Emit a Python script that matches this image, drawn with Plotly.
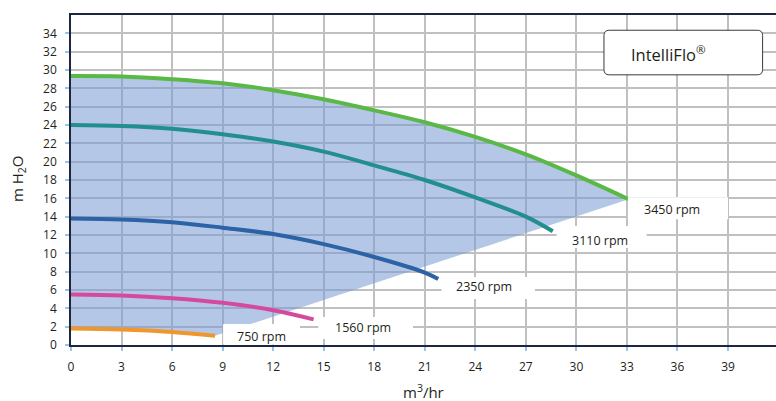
import plotly.graph_objects as go

# ---- data ----
x_3450 = [0, 3, 6, 9, 12, 15, 18, 21, 24, 27, 30, 33.1]
y_3450 = [29.35, 29.3, 29.0, 28.55, 27.8, 26.8, 25.6, 24.3, 22.7, 20.8, 18.5, 15.9]

x_3110 = [0, 3, 6, 9, 12, 15, 18, 21, 24, 27, 28.6]
y_3110 = [24.0, 23.9, 23.6, 23.0, 22.2, 21.1, 19.6, 18.0, 16.1, 14.0, 12.4]

x_2350 = [0, 3, 6, 9, 12, 15, 18, 21, 21.8]
y_2350 = [13.8, 13.7, 13.4, 12.8, 12.1, 11.0, 9.6, 7.9, 7.2]

x_1560 = [0, 3, 6, 9, 12, 14.4]
y_1560 = [5.5, 5.4, 5.1, 4.6, 3.8, 2.8]

x_750 = [0, 3, 6, 8.55]
y_750 = [1.8, 1.7, 1.42, 1.0]

speed_labels = ["3450 rpm", "3110 rpm", "2350 rpm", "1560 rpm", "750 rpm"]
label_x = [35.66, 31.39, 24.51, 17.31, 11.28]
label_y = [14.82, 11.44, 6.35, 1.89, 0.98]
# white label boxes [x0, x1, y0, y1]
box_x0 = [33.06, 28.83, 22.0, 14.68, 9.03]
box_x1 = [39.0, 34.17, 27.54, 20.3, 13.59]
box_y0 = [13.73, 10.57, 5.01, 0.65, 0.05]
box_y1 = [16.13, 12.97, 7.41, 3.05, 2.29]

x_ticks = list(range(0, 40, 3))
y_ticks = list(range(0, 35, 2))

colors = ["#5ab946", "#238e8e", "#2c62a6", "#d64a9e", "#f0962c"]
FONT = "Open Sans"
TXT = "#231f20"

fig = go.Figure()

# shaded operating region: bottom curve, straight edge to top curve end, back along top curve
fx = x_750 + x_3450[::-1]
fy = y_750 + y_3450[::-1]
fig.add_trace(go.Scatter(x=fx, y=fy, fill="toself", mode="lines",
                         line=dict(width=0), fillcolor="rgba(119,153,210,0.55)",
                         hoverinfo="skip", showlegend=False))

series = [(x_3450, y_3450), (x_3110, y_3110), (x_2350, y_2350), (x_1560, y_1560), (x_750, y_750)]
for (xs, ys), c, name in zip(series, colors, speed_labels):
    fig.add_trace(go.Scatter(x=xs, y=ys, mode="lines", name=name,
                             line=dict(color=c, width=4, shape="spline"),
                             showlegend=False))

shapes = []
for x0, x1, y0, y1 in zip(box_x0, box_x1, box_y0, box_y1):
    shapes.append(dict(type="rect", xref="x", yref="y", x0=x0, x1=x1, y0=y0, y1=y1,
                       fillcolor="white", line=dict(width=0), layer="above"))

# IntelliFlo rounded box (paper coords)
bx0, bx1, by0, by1 = 0.756, 0.981, 0.8187, 0.9538
rx, ry = 0.0075, 0.016
path = (f"M {bx0+rx},{by0} L {bx1-rx},{by0} Q {bx1},{by0} {bx1},{by0+ry} "
        f"L {bx1},{by1-ry} Q {bx1},{by1} {bx1-rx},{by1} "
        f"L {bx0+rx},{by1} Q {bx0},{by1} {bx0},{by1-ry} "
        f"L {bx0},{by0+ry} Q {bx0},{by0} {bx0+rx},{by0} Z")
shapes.append(dict(type="path", xref="paper", yref="paper", path=path,
                   fillcolor="white", line=dict(color="#3a3a3a", width=1), layer="above"))

annotations = []
for t, lx, ly in zip(speed_labels, label_x, label_y):
    annotations.append(dict(x=lx, y=ly, xref="x", yref="y", text=t, showarrow=False,
                            xanchor="center", yanchor="middle",
                            font=dict(family=FONT, size=12.5, color=TXT)))
annotations.append(dict(x=0.8478, y=0.881, xref="paper", yref="paper",
                        text="IntelliFlo<sup>®</sup>", showarrow=False,
                        xanchor="center", yanchor="middle",
                        font=dict(family=FONT, size=16.5, color=TXT)))
annotations.append(dict(x=0.4993, y=-0.1424, xref="paper", yref="paper",
                        text="m<sup>3</sup>/hr", showarrow=False,
                        xanchor="center", yanchor="middle",
                        font=dict(family=FONT, size=15, color=TXT)))
annotations.append(dict(x=-0.0752, y=0.506, xref="paper", yref="paper",
                        text="m H<sub>2</sub>O", showarrow=False, textangle=-90,
                        xanchor="center", yanchor="middle",
                        font=dict(family=FONT, size=15, color=TXT)))

fig.update_layout(
    width=776, height=401,
    margin=dict(l=71, r=0, t=15, b=56),
    paper_bgcolor="white", plot_bgcolor="white",
    font=dict(family=FONT, color=TXT),
    shapes=shapes, annotations=annotations,
    xaxis=dict(range=[0, 41.85], tickvals=x_ticks, ticktext=[str(v) for v in x_ticks],
               showgrid=True, gridcolor="#c0c0c0", gridwidth=1.5,
               showline=True, linecolor="#1c2841", linewidth=1.5, mirror=True,
               ticks="outside", ticklen=4, tickcolor="#9cc2e5", tickwidth=1.5,
               tickfont=dict(family=FONT, size=12, color=TXT), ticklabelstandoff=6,
               zeroline=False, automargin=False),
    yaxis=dict(range=[0, 36], tickvals=y_ticks, ticktext=[str(v) for v in y_ticks],
               showgrid=True, gridcolor="#c0c0c0", gridwidth=1.5,
               showline=True, linecolor="#1c2841", linewidth=1.5,
               ticks="outside", ticklen=4, tickcolor="#9cc2e5", tickwidth=1.5,
               tickfont=dict(family=FONT, size=12, color=TXT), ticklabelstandoff=6,
               zeroline=False, automargin=False),
)

fig.write_html("out.html", config={"displayModeBar": False},
               post_script="document.body.style.margin='0';document.body.style.overflow='hidden';")
